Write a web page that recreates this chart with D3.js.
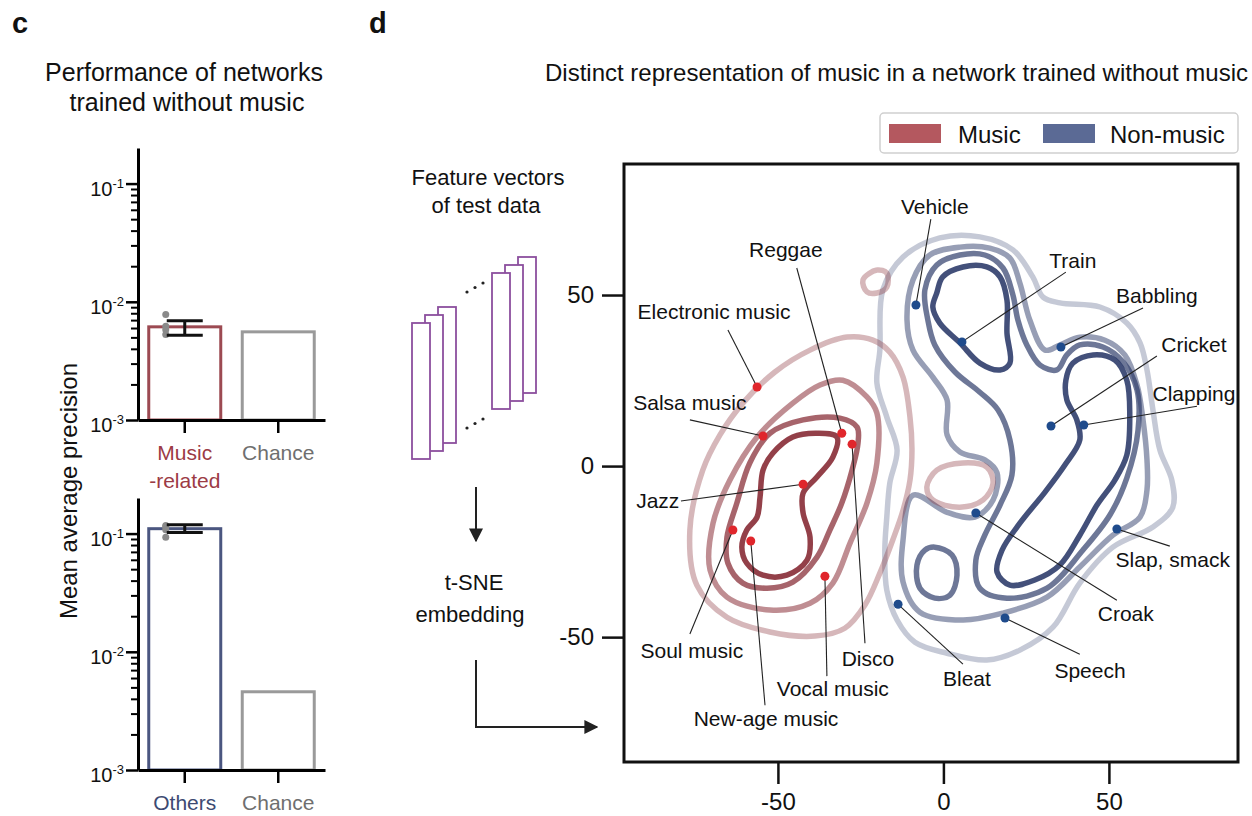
<!DOCTYPE html>
<html>
  <head>
    <meta charset="utf-8">
    <title>Music vs non-music representation</title>
    <script src="https://d3js.org/d3.v7.min.js"></script>
    <style>
      body { margin: 0; background: #fff; }
      text { font-family: "Liberation Sans", Arial, sans-serif; fill: #111; }
    </style>
  </head>
  <body>
    <svg id="fig" width="1252" height="816"></svg>
    <script>
      // ---------- panel c data ----------
      const topCats = ["Music-related", "Chance"];
      const topLabels = [["Music", "-related"], ["Chance"]];
      const topMeans = [0.00614, 0.00557];
      const topErr = [0.0052, 0.0069];
      const topDots = [0.0078, 0.0062, 0.0058, 0.0053];

      const bottomCats = ["Others", "Chance"];
      const bottomLabels = [["Others"], ["Chance"]];
      const bottomMeans = [0.110, 0.00459];
      const bottomErr = [0.102, 0.119];
      const bottomDots = [0.117, 0.114, 0.108, 0.093];

      const logMajor = [1e-3, 1e-2, 1e-1];
      const logExp = ["-3", "-2", "-1"];

      // ---------- panel d data (t-SNE units) ----------
      const tsneTicks = [-50, 0, 50];

      const musicNames = ["Electronic music", "Salsa music", "Reggae", "Disco", "Jazz", "Soul music", "New-age music", "Vocal music"];
      const musicX = [-56.3, -54.5, -30.7, -27.6, -42.4, -63.6, -58.2, -35.8];
      const musicY = [23.1, 8.8, 9.6, 6.4, -5.3, -18.7, -21.9, -32.2];

      const otherNames = ["Vehicle", "Train", "Babbling", "Cricket", "Clapping", "Croak", "Slap, smack", "Bleat", "Speech"];
      const otherX = [-8.3, 5.6, 35.5, 32.5, 42.4, 9.8, 52.4, -13.7, 18.6];
      const otherY = [47.1, 36.3, 34.8, 11.7, 12.0, -13.7, -18.4, -40.4, -44.4];

      // density contours, outer level = 0
      const musicC0 = [[-40.3,33.9],[-29.1,37.7],[-21.3,36.8],[-16.2,33.3],[-12.2,26.0],[-10.1,14.3],[-9.5,4.7],[-10.1,-4.1],[-12.2,-12.9],[-15.3,-21.6],[-19.2,-31.3],[-23.7,-40.6],[-29.8,-47.4],[-38.8,-49.7],[-52.4,-48.5],[-65.4,-44.2],[-74.5,-34.8],[-76.6,-18.7],[-72.7,-1.2],[-67.5,9.1],[-60.6,18.4],[-50.9,27.5]];
      const musicC0b = [[-5.0,-6.1],[-2.0,-1.2],[5.9,0.9],[13.1,-0.3],[15.0,-5.0],[12.0,-9.9],[5.0,-12.0],[-3.2,-9.9]];
      const musicC0c = [[-24.3,54.4],[-20.1,57.3],[-17.1,56.4],[-17.1,52.3],[-20.1,50.6],[-23.1,50.9]];
      const musicC1 = [[-30.4,25.1],[-23.1,20.2],[-20.1,15.5],[-20.1,0.9],[-23.1,-10.8],[-28.2,-22.5],[-33.4,-34.2],[-40.3,-40.1],[-52.4,-42.1],[-65.4,-38.3],[-70.5,-30.4],[-69.6,-16.7],[-64.5,-4.1],[-56.3,8.5],[-45.5,18.4],[-37.3,23.7]];
      const musicC2 = [[-31.3,14.0],[-26.1,11.4],[-25.8,6.7],[-27.6,-1.2],[-30.7,-10.8],[-34.3,-18.7],[-38.2,-26.6],[-45.5,-33.9],[-53.3,-35.7],[-60.6,-34.2],[-65.1,-28.4],[-65.4,-20.8],[-62.4,-10.8],[-58.5,0.9],[-52.4,9.6],[-42.4,13.5]];
      const musicC3 = [[-32.2,8.5],[-38.2,9.6],[-45.5,8.5],[-51.5,3.8],[-54.5,-1.2],[-55.4,-9.1],[-56.3,-14.9],[-59.4,-18.7],[-60.9,-23.7],[-59.4,-28.4],[-54.5,-31.9],[-47.3,-31.9],[-41.2,-27.5],[-40.3,-20.8],[-42.4,-13.7],[-42.4,-7.9],[-38.2,-3.2],[-33.4,2.6]];

      const otherC0 = [[-12.2,61.1],[-1.1,66.7],[11.0,67.0],[21.0,63.2],[27.0,55.3],[30.1,49.4],[35.2,47.7],[47.3,46.5],[55.4,41.8],[59.4,36.0],[61.5,28.1],[63.3,16.4],[65.4,4.7],[69.0,-4.1],[69.3,-12.0],[63.3,-17.8],[51.2,-23.7],[41.2,-34.2],[33.1,-47.1],[23.1,-53.8],[13.1,-56.7],[1.1,-54.7],[-8.6,-51.5],[-14.0,-45.0],[-17.1,-36.3],[-17.7,-24.6],[-17.1,-14.9],[-16.2,-5.0],[-14.0,4.7],[-17.1,14.3],[-20.1,24.3],[-19.2,33.9],[-18.3,51.5]];
      const otherC1 = [[-11.0,42.7],[-9.2,54.4],[-4.1,61.7],[5.0,64.0],[14.0,63.7],[20.1,60.8],[23.1,53.5],[26.1,42.7],[30.7,33.9],[35.2,35.4],[41.2,37.7],[48.8,36.8],[54.8,32.5],[58.5,23.7],[60.3,13.5],[61.5,1.8],[61.5,-7.0],[59.4,-14.9],[51.2,-20.2],[41.2,-29.5],[31.3,-38.3],[17.9,-43.0],[5.9,-45.0],[-7.1,-42.7],[-12.2,-33.9],[-12.2,-21.6],[-9.2,-8.5],[1.1,-13.5],[9.5,-14.9],[15.0,-9.9],[16.2,-2.0],[12.5,1.8],[5.0,4.1],[1.1,9.1],[1.1,19.3],[-3.2,26.0],[-9.2,33.9]];
      const otherC2 = [[-5.6,51.5],[-4.7,42.7],[-2.6,35.4],[3.5,27.5],[11.0,21.6],[16.5,16.4],[20.1,7.6],[20.7,-2.6],[17.1,-11.4],[12.5,-20.2],[9.8,-27.5],[11.0,-35.7],[19.2,-38.6],[31.3,-35.7],[42.1,-24.6],[50.3,-14.3],[55.4,-3.5],[58.8,10.5],[58.5,22.2],[54.3,30.4],[48.2,34.8],[41.2,35.4],[37.3,32.5],[34.3,28.1],[29.2,29.5],[25.2,35.4],[22.5,42.7],[21.0,50.0],[18.0,57.9],[12.5,61.7],[5.0,61.7],[-2.0,58.8]];
      const otherC2b = [[-2.6,-23.7],[2.6,-26.0],[4.1,-31.9],[2.0,-37.7],[-2.6,-38.6],[-7.1,-35.7],[-8.0,-29.0],[-5.6,-24.6]];
      const otherC3 = [[-2.0,50.6],[-0.2,55.3],[5.9,58.2],[13.1,58.2],[17.1,55.3],[19.2,48.5],[19.2,38.9],[20.1,30.1],[17.1,28.1],[11.0,30.1],[5.0,36.0],[-1.1,41.8],[-3.2,46.5]];
      const otherC3b = [[39.1,30.1],[45.2,32.5],[51.8,31.0],[55.4,25.1],[56.3,14.9],[55.4,3.2],[51.8,-4.1],[46.4,-11.4],[41.2,-20.2],[35.2,-28.9],[27.6,-33.3],[20.1,-34.8],[16.2,-31.0],[17.7,-24.6],[23.1,-16.7],[30.7,-7.6],[36.7,0.3],[41.2,7.6],[40.3,13.5],[37.3,19.3],[37.0,25.1]];

      const musicContours = [[0, musicC0], [0, musicC0b], [0, musicC0c], [1, musicC1], [2, musicC2], [3, musicC3]];
      const otherContours = [[0, otherC0], [1, otherC1], [2, otherC2], [2, otherC2b], [3, otherC3], [3, otherC3b]];

      // label text spot and leader start, t-SNE units
      const labelAt = {
        "Electronic music": [-69.3, 43.0, -65.1, 39.8],
        "Salsa music": [-76.6, 16.4, -76.6, 13.5],
        "Reggae": [-47.6, 61.1, -44.3, 57.9],
        "Disco": [-22.8, -58.5, -23.7, -51.8],
        "Jazz": [-86.3, -12.3, -79.3, -10.2],
        "Soul music": [-76.0, -56.1, -76.6, -49.1],
        "New-age music": [-53.6, -76.0, -53.9, -69.9],
        "Vocal music": [-33.4, -67.3, -35.2, -61.4],
        "Vehicle": [-2.6, 73.7, -3.8, 72.2],
        "Train": [39.1, 57.9, 37.0, 56.7],
        "Babbling": [64.5, 47.7, 60.3, 46.2],
        "Cricket": [75.7, 33.3, 64.5, 32.2],
        "Clapping": [75.7, 19.0, 76.6, 17.5],
        "Croak": [55.1, -45.3, 52.4, -39.2],
        "Slap, smack": [69.3, -29.5, 68.4, -23.4],
        "Bleat": [7.1, -64.3, 5.9, -57.9],
        "Speech": [44.3, -62.0, 41.2, -55.0]
      };

      const svg = d3.select("#fig");

      // panel letters + titles
      svg.append("text").attr("x", 12).attr("y", 33).attr("font-size", 29).attr("font-weight", "bold").text("c");
      svg.append("text").attr("x", 369).attr("y", 33).attr("font-size", 29).attr("font-weight", "bold").text("d");
      svg.append("text").attr("x", 184).attr("y", 81).attr("font-size", 25).attr("text-anchor", "middle").text("Performance of networks");
      svg.append("text").attr("x", 187).attr("y", 111).attr("font-size", 25).attr("text-anchor", "middle").text("trained without music");
      svg.append("text").attr("x", 545).attr("y", 81).attr("font-size", 24).text("Distinct representation of music in a network trained without music");

      // ---------- panel c ----------
      function barPanel(yTop, yBottom, cats, labels, means, err, dots, colors, labelColors) {
        const x = d3.scaleBand().domain(cats).range([138, 325]).paddingInner(0.23).paddingOuter(0.115);
        const y = d3.scaleLog().domain([1e-3, 0.2]).range([yBottom, yTop]);
        const g = svg.append("g");

        g.selectAll("rect")
          .data(cats)
          .join("rect")
          .attr("x", (d) => x(d))
          .attr("width", x.bandwidth())
          .attr("y", (d, i) => y(means[i]))
          .attr("height", (d, i) => y(1e-3) - y(means[i]))
          .attr("fill", "none")
          .attr("stroke", (d, i) => colors[i])
          .attr("stroke-width", 3);

        // individual networks
        const cx = x(cats[0]) + x.bandwidth() / 2;
        g.selectAll("circle")
          .data(dots)
          .join("circle")
          .attr("cx", cx - 19)
          .attr("cy", (d) => y(d))
          .attr("r", 3.5)
          .attr("fill", "#8a8a8a");

        // error bar
        const eb = g.append("g").attr("stroke", "#111").attr("stroke-width", 3);
        eb.append("line").attr("x1", cx).attr("x2", cx).attr("y1", y(err[0])).attr("y2", y(err[1]));
        err.forEach((v) => eb.append("line").attr("x1", cx - 18).attr("x2", cx + 18).attr("y1", y(v)).attr("y2", y(v)));

        // log axis
        const minor = [];
        [1e-3, 1e-2].forEach((b) => [2, 3, 4, 5, 6, 7, 8, 9].forEach((m) => minor.push(b * m)));
        const ax = g.append("g").attr("transform", "translate(138,0)");
        ax.call(d3.axisLeft(y).tickValues(logMajor).tickSize(12).tickSizeOuter(0).tickFormat(() => ""));
        ax.call((a) => a.select(".domain").attr("stroke-width", 3));
        ax.selectAll(".tick line").attr("stroke-width", 2.5);
        const axm = g.append("g").attr("transform", "translate(138,0)");
        axm.call(d3.axisLeft(y).tickValues(minor).tickSize(7).tickSizeOuter(0).tickFormat(() => ""));
        axm.select(".domain").remove();
        axm.selectAll(".tick line").attr("stroke-width", 2);

        logMajor.forEach((v, i) => {
          const t = g.append("text").attr("x", 124).attr("y", y(v) + 12).attr("text-anchor", "end").attr("font-size", 20);
          t.append("tspan").text("10");
          t.append("tspan").attr("font-size", 13).attr("dy", -8).text(logExp[i]);
        });

        const bx = g.append("g").attr("transform", `translate(0,${yBottom})`);
        bx.call(d3.axisBottom(x).tickSize(13).tickSizeOuter(0).tickFormat(() => ""));
        bx.select(".domain").attr("stroke-width", 3);
        bx.selectAll(".tick line").attr("stroke-width", 2.5);

        cats.forEach((c, i) => {
          labels[i].forEach((line, k) => {
            g.append("text")
              .attr("x", x(c) + x.bandwidth() / 2)
              .attr("y", yBottom + 40 + k * 28)
              .attr("text-anchor", "middle")
              .attr("font-size", 21)
              .style("fill", labelColors[i])
              .text(line);
          });
        });
      }

      barPanel(148, 420, topCats, topLabels, topMeans, topErr, topDots, ["#9c4a52", "#9a9a9a"], ["#9c3b45", "#6f6f6f"]);
      barPanel(498, 770, bottomCats, bottomLabels, bottomMeans, bottomErr, bottomDots, ["#4b5680", "#9a9a9a"], ["#3d4a72", "#6f6f6f"]);

      svg.append("text")
        .attr("transform", "translate(77,491) rotate(-90)")
        .attr("text-anchor", "middle")
        .attr("font-size", 24)
        .text("Mean average precision");

      // ---------- schematic: feature vectors -> t-SNE ----------
      svg.append("text").attr("x", 488).attr("y", 185).attr("font-size", 22).attr("text-anchor", "middle").text("Feature vectors");
      svg.append("text").attr("x", 486).attr("y", 213).attr("font-size", 22).attr("text-anchor", "middle").text("of test data");

      const stacks = [[412, 323], [492, 273]];
      stacks.forEach(([sx, sy]) => {
        [2, 1, 0].forEach((k) => {
          svg.append("rect")
            .attr("x", sx + k * 13).attr("y", sy - k * 8)
            .attr("width", 18).attr("height", 136)
            .attr("fill", "#fff").attr("stroke", "#8c4f9e").attr("stroke-width", 1.8);
        });
      });
      [[467, 292], [475, 287.5], [483, 283], [467, 428], [475, 423.5], [483, 419]].forEach(([px, py]) =>
        svg.append("circle").attr("cx", px).attr("cy", py).attr("r", 1.6).attr("fill", "#222"));

      svg.append("defs").append("marker")
        .attr("id", "ah").attr("viewBox", "0 0 10 10").attr("refX", 9).attr("refY", 5)
        .attr("markerWidth", 7).attr("markerHeight", 7).attr("orient", "auto-start-reverse")
        .append("path").attr("d", "M0,0 L10,5 L0,10 z").attr("fill", "#222");
      svg.append("path").attr("d", "M476,487 V541").attr("stroke", "#222").attr("stroke-width", 2).attr("fill", "none").attr("marker-end", "url(#ah)");
      svg.append("path").attr("d", "M476,660 V727 H597").attr("stroke", "#222").attr("stroke-width", 2).attr("fill", "none").attr("marker-end", "url(#ah)");
      svg.append("text").attr("x", 474).attr("y", 590).attr("font-size", 22).attr("text-anchor", "middle").text("t-SNE");
      svg.append("text").attr("x", 470).attr("y", 622).attr("font-size", 22).attr("text-anchor", "middle").text("embedding");

      // ---------- panel d ----------
      const xT = d3.scaleLinear().domain([-96.5, 89]).range([624, 1238]);
      const yT = d3.scaleLinear().domain([-86.5, 88.3]).range([762, 164]);

      const line = d3.line()
        .x((d) => xT(d[0]))
        .y((d) => yT(d[1]))
        .curve(d3.curveCatmullRomClosed.alpha(0.5));

      const musicOpacity = [0.35, 0.55, 0.75, 0.92];
      const otherOpacity = [0.28, 0.5, 0.7, 0.9];

      const contours = svg.append("g").attr("fill", "none").attr("stroke-width", 5.5).attr("stroke-linejoin", "round");
      contours.selectAll("path.other")
        .data(otherContours)
        .join("path")
        .attr("class", "other")
        .attr("d", (d) => line(d[1]))
        .attr("stroke", "#2f3d6b")
        .attr("stroke-opacity", (d) => otherOpacity[d[0]]);
      contours.selectAll("path.music")
        .data(musicContours)
        .join("path")
        .attr("class", "music")
        .attr("d", (d) => line(d[1]))
        .attr("stroke", "#8a3039")
        .attr("stroke-opacity", (d) => musicOpacity[d[0]]);

      // labelled examples
      const points = musicNames.map((n, i) => ({ name: n, x: musicX[i], y: musicY[i], c: "#e0262c" }))
        .concat(otherNames.map((n, i) => ({ name: n, x: otherX[i], y: otherY[i], c: "#1f4b8c" })));

      const ann = svg.append("g");
      ann.selectAll("line")
        .data(points)
        .join("line")
        .attr("x1", (d) => xT(labelAt[d.name][2]))
        .attr("y1", (d) => yT(labelAt[d.name][3]))
        .attr("x2", (d) => xT(d.x))
        .attr("y2", (d) => yT(d.y))
        .attr("stroke", "#222")
        .attr("stroke-width", 1.1);
      ann.selectAll("circle")
        .data(points)
        .join("circle")
        .attr("cx", (d) => xT(d.x))
        .attr("cy", (d) => yT(d.y))
        .attr("r", 4.5)
        .attr("fill", (d) => d.c);
      ann.selectAll("text")
        .data(points)
        .join("text")
        .attr("x", (d) => xT(labelAt[d.name][0]))
        .attr("y", (d) => yT(labelAt[d.name][1]))
        .attr("text-anchor", "middle")
        .attr("font-size", 21)
        .text((d) => d.name);

      // frame and axes
      svg.append("rect").attr("x", 624).attr("y", 164).attr("width", 614).attr("height", 598)
        .attr("fill", "none").attr("stroke", "#111").attr("stroke-width", 3);
      const ay = svg.append("g").attr("transform", "translate(624,0)")
        .call(d3.axisLeft(yT).tickValues(tsneTicks).tickSize(22).tickPadding(8).tickFormat((d) => String(d)));
      const axx = svg.append("g").attr("transform", "translate(0,762)")
        .call(d3.axisBottom(xT).tickValues(tsneTicks).tickSize(22).tickPadding(9).tickFormat((d) => String(d)));
      [ay, axx].forEach((a) => {
        a.select(".domain").remove();
        a.selectAll(".tick line").attr("stroke", "#111").attr("stroke-width", 2.5);
        a.selectAll(".tick text").attr("font-size", 24).attr("font-family", "Liberation Sans, Arial, sans-serif").style("fill", "#111");
      });

      // legend
      const lg = svg.append("g");
      lg.append("rect").attr("x", 880).attr("y", 113).attr("width", 358).attr("height", 40).attr("rx", 4)
        .attr("fill", "#fff").attr("stroke", "#cfcfcf").attr("stroke-width", 1.5);
      [["Music", "#b4585f", 889, 958], ["Non-music", "#5b6a95", 1043, 1110]].forEach(([name, col, sx, tx]) => {
        lg.append("rect").attr("x", sx).attr("y", 124).attr("width", 52).attr("height", 19).attr("fill", col);
        lg.append("text").attr("x", tx).attr("y", 143).attr("font-size", 24).text(name);
      });
    </script>
  </body>
</html>
